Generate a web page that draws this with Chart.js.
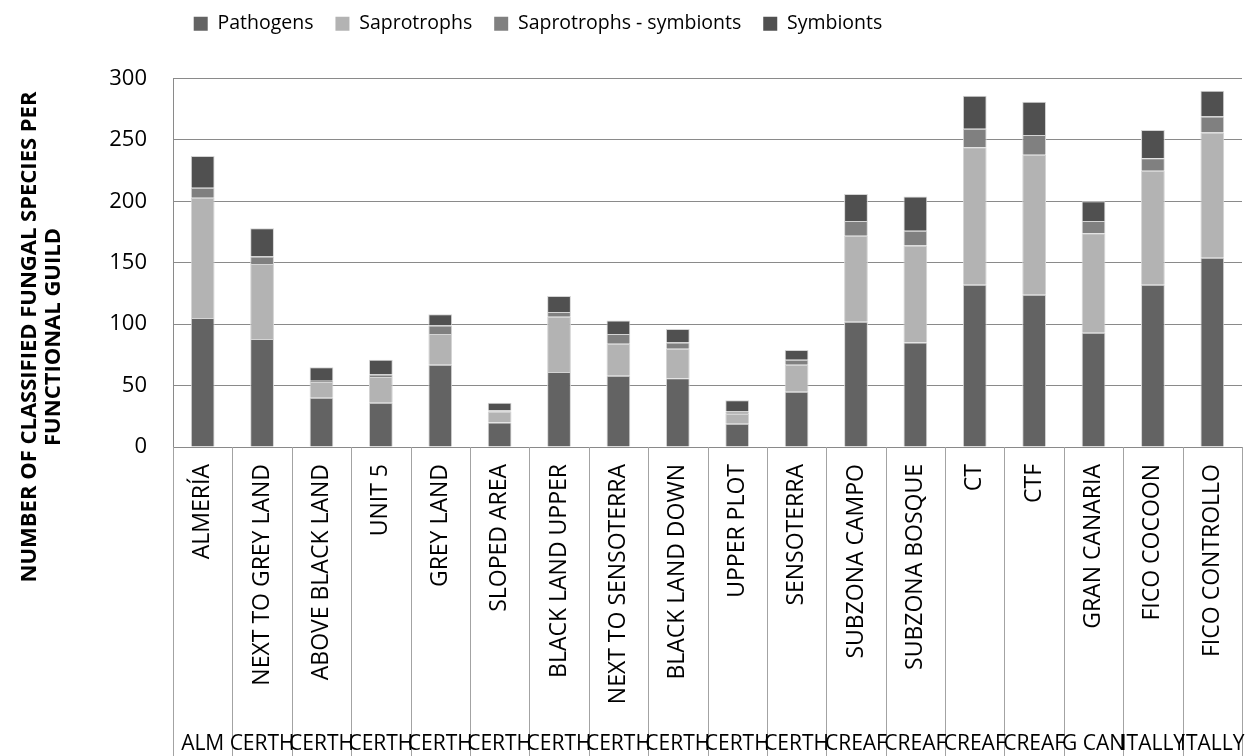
<!DOCTYPE html>
<html>
<head>
<meta charset="utf-8">
<script src="https://cdn.jsdelivr.net/npm/chart.js@4.4.1/dist/chart.umd.min.js"></script>
<style>
  html, body { margin: 0; padding: 0; background: #fff; }
  #wrap { width: 1252px; height: 756px; position: relative; }
</style>
</head>
<body>
<div id="wrap"><canvas id="guildChart"></canvas></div>
<script>
const sites = ['ALMERÍA', 'NEXT TO GREY LAND', 'ABOVE BLACK LAND', 'UNIT 5', 'GREY LAND', 'SLOPED AREA',
  'BLACK LAND UPPER', 'NEXT TO SENSOTERRA', 'BLACK LAND DOWN', 'UPPER PLOT', 'SENSOTERRA',
  'SUBZONA CAMPO', 'SUBZONA BOSQUE', 'CT', 'CTF', 'GRAN CANARIA', 'FICO COCOON', 'FICO CONTROLLO'];
// second level labels, as they show (cut) under each site
const groups = ['ALM', 'CERTH', 'CERTH', 'CERTH', 'CERTH', 'CERTH', 'CERTH', 'CERTH', 'CERTH', 'CERTH', 'CERTH',
  'CREAF', 'CREAF', 'CREAF', 'CREAF', 'G CAN', 'ITALLY', 'ITALLY'];

const pathogens   = [105, 88, 40, 36, 67, 20, 61, 58, 56, 19, 45, 102, 85, 132, 124, 93, 132, 154];
const saprotrophs = [98, 61, 13, 21, 25, 9, 45, 26, 24, 8, 22, 70, 79, 112, 114, 81, 93, 102];
const saproSymb   = [8, 6, 1, 2, 7, 1, 4, 8, 5, 2, 4, 12, 12, 15, 16, 10, 10, 13];
const symbionts   = [26, 23, 11, 12, 9, 6, 13, 11, 11, 9, 8, 22, 28, 27, 27, 16, 23, 21];

const yTicks = [0, 50, 100, 150, 200, 250, 300];
const yTitle = ['NUMBER OF CLASSIFIED FUNGAL SPECIES PER', 'FUNCTIONAL GUILD'];

const FONT = '"Open Sans", "Noto Sans", sans-serif';

// extra drawing: y title, category separators, second level labels
const extrasPlugin = {
  id: 'extras',
  afterLayout(chart) {
    // legend sits left of centre and near the top, like the original
    const lg = chart.legend;
    if (lg) {
      lg.left = 10;
      lg.right = 1066;
      lg.width = 1056;
      lg.top = -8;
      lg.bottom = lg.top + lg.height;
    }
  },
  afterDraw(chart) {
    const { ctx, chartArea, scales } = chart;
    const xs = scales.x;
    const n = sites.length;
    const cell = (chartArea.right - chartArea.left) / n;
    ctx.save();

    // separators
    ctx.strokeStyle = '#a3a3a3';
    ctx.lineWidth = 1;
    for (let i = 0; i <= n; i++) {
      const x = Math.round(xs.getPixelForValue(0) - cell / 2 + i * cell) + 0.5;
      ctx.beginPath();
      ctx.moveTo(x, chartArea.bottom);
      ctx.lineTo(x, chart.height);
      ctx.stroke();
    }

    // group labels
    ctx.fillStyle = '#000';
    ctx.font = '21px ' + FONT;
    ctx.textAlign = 'center';
    ctx.textBaseline = 'alphabetic';
    groups.forEach((g, i) => {
      ctx.fillText(g, xs.getPixelForValue(i), 750);
    });

    // y axis title
    ctx.font = 'bold 22px ' + FONT;
    ctx.translate(41, 337);
    ctx.rotate(-Math.PI / 2);
    ctx.textBaseline = 'middle';
    ctx.fillText(yTitle[0], 0, -11);
    ctx.fillText(yTitle[1], 0, 13);
    ctx.restore();
  }
};

const ctx = document.getElementById('guildChart').getContext('2d');
const barStyle = { borderColor: '#d4d4d4', borderWidth: 1, barPercentage: 0.4, categoryPercentage: 1 };

new Chart(ctx, {
  type: 'bar',
  data: {
    labels: sites,
    datasets: [
      { label: 'Pathogens', data: pathogens, backgroundColor: '#636363', ...barStyle },
      { label: 'Saprotrophs', data: saprotrophs, backgroundColor: '#b3b3b3', ...barStyle },
      { label: 'Saprotrophs - symbionts', data: saproSymb, backgroundColor: '#808080', ...barStyle },
      { label: 'Symbionts', data: symbionts, backgroundColor: '#505050', ...barStyle }
    ]
  },
  options: {
    responsive: true,
    maintainAspectRatio: false,
    animation: false,
    layout: { padding: { top: 27, right: 10, left: 0, bottom: 0 } },
    plugins: {
      tooltip: { enabled: false },
      legend: {
        position: 'top',
        labels: {
          color: '#000',
          font: { family: FONT, size: 19.5 },
          boxWidth: 14,
          boxHeight: 14,
          padding: 22,
          generateLabels(chart) {
            return chart.data.datasets.map((d, i) => ({
              text: d.label,
              fillStyle: d.backgroundColor,
              strokeStyle: d.backgroundColor,
              lineWidth: 0,
              datasetIndex: i
            }));
          }
        }
      }
    },
    scales: {
      x: {
        stacked: true,
        grid: { display: false },
        border: { display: true, color: '#8a8a8a', width: 1 },
        ticks: {
          color: '#000',
          font: { family: FONT, size: 23 },
          minRotation: 90,
          maxRotation: 90,
          autoSkip: false,
          padding: 9
        },
        afterFit(scale) { scale.height = 309; }
      },
      y: {
        stacked: true,
        min: 0,
        max: 300,
        afterBuildTicks(scale) { scale.ticks = yTicks.map(v => ({ value: v })); },
        grid: { color: '#8a8a8a', lineWidth: 1, drawTicks: false },
        border: { display: true, color: '#8a8a8a', width: 1 },
        ticks: {
          color: '#000',
          font: { family: FONT, size: 22 },
          padding: 26
        },
        afterFit(scale) { scale.width = 173; }
      }
    }
  },
  plugins: [extrasPlugin]
});
</script>
</body>
</html>
